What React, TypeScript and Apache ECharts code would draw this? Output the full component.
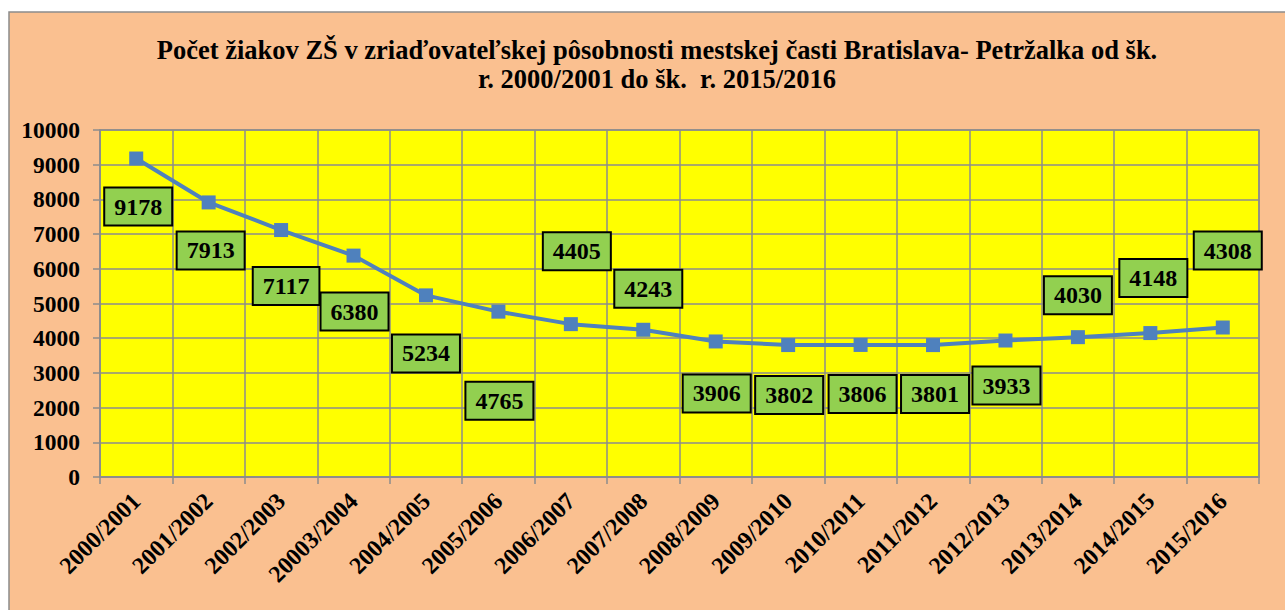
import React, { useEffect, useRef } from "react";
import * as echarts from "echarts";

const titleLine1 = "Počet žiakov ZŠ v zriaďovateľskej pôsobnosti mestskej časti Bratislava- Petržalka od šk.";
const titleLine2 = "r. 2000/2001 do šk.  r. 2015/2016";

const categories = [
  "2000/2001", "2001/2002", "2002/2003", "20003/2004", "2004/2005", "2005/2006",
  "2006/2007", "2007/2008", "2008/2009", "2009/2010", "2010/2011", "2011/2012",
  "2012/2013", "2013/2014", "2014/2015", "2015/2016",
];

const pupils = [9178, 7913, 7117, 6380, 5234, 4765, 4405, 4243, 3906, 3802, 3806, 3801, 3933, 4030, 4148, 4308];

const yTicks = { min: 0, max: 10000, interval: 1000 };

// label placement (style), relative to each point
const labelOffsets: [number, number][] = [
  [2, 48], [2, 48], [5, 56], [1, 56], [0, 58], [1, 89], [6, -73], [5, -41],
  [1, 52], [1, 50], [2, 49], [2, 49], [1, 45], [0, -42], [3, -55], [5, -77],
];

export default function App() {
  const ref = useRef<HTMLDivElement>(null);
  useEffect(() => {
    if (!ref.current) return;
    const chart = echarts.init(ref.current, null, { renderer: "svg" });
    const font = "'Liberation Serif', 'Times New Roman', serif";
    chart.setOption({
      animation: false,
      backgroundColor: "#ffffff",
      graphic: [
        {
          type: "rect",
          z: -10,
          shape: { x: 9, y: 12, width: 1300, height: 620 },
          style: { fill: "#FAC090", stroke: "#8c8c8c", lineWidth: 1.5 },
          silent: true,
        },
      ],
      title: {
        text: titleLine1 + "\n" + titleLine2,
        left: 652,
        top: 30,
        textAlign: "center",
        textStyle: {
          fontFamily: font,
          fontWeight: "bold",
          fontSize: 26.5,
          lineHeight: 29,
          color: "#000",
        },
      },
      grid: {
        left: 100,
        right: 26,
        top: 130,
        bottom: 133,
        show: true,
        backgroundColor: "#FFFF00",
        borderColor: "#8c8c8c",
        borderWidth: 1.5,
      },
      xAxis: {
        type: "category",
        data: categories,
        boundaryGap: true,
        axisLine: { show: true, lineStyle: { color: "#8c8c8c", width: 1.5 } },
        axisTick: { show: true, length: 7, alignWithLabel: false, lineStyle: { color: "#8c8c8c", width: 1.5 } },
        splitLine: { show: true, lineStyle: { color: "#8c8c8c", width: 1.5 } },
        axisLabel: {
          rotate: 45,
          interval: 0,
          margin: 20,
          fontFamily: font,
          fontWeight: "bold",
          fontSize: 24,
          color: "#000",
        },
      },
      yAxis: {
        type: "value",
        min: yTicks.min,
        max: yTicks.max,
        interval: yTicks.interval,
        axisLine: { show: true, lineStyle: { color: "#8c8c8c", width: 1.5 } },
        axisTick: { show: true, length: 7, lineStyle: { color: "#8c8c8c", width: 1.5 } },
        splitLine: { show: true, lineStyle: { color: "#8c8c8c", width: 1.5 } },
        axisLabel: {
          margin: 20,
          formatter: (v: number) => String(v),
          fontFamily: font,
          fontWeight: "bold",
          fontSize: 23.5,
          color: "#000",
        },
      },
      series: [
        {
          type: "line",
          data: pupils.map((v, i) => ({
            value: v,
            label: { offset: labelOffsets[i] },
          })),
          symbol: "rect",
          symbolSize: 14,
          itemStyle: { color: "#4F81BD" },
          lineStyle: { color: "#4F81BD", width: 4 },
          label: {
            show: true,
            position: "inside",
            fontFamily: font,
            fontWeight: "bold",
            fontSize: 24,
            lineHeight: 25,
            color: "#000",
            backgroundColor: "#92D050",
            borderColor: "#000",
            borderWidth: 2,
            padding: [6, 9, 5, 9],
          },
        },
      ],
    });
    return () => chart.dispose();
  }, []);
  return (
    <div
      ref={ref}
      style={{ position: "absolute", left: 0, top: 0, width: 1285, height: 610 }}
    />
  );
}
